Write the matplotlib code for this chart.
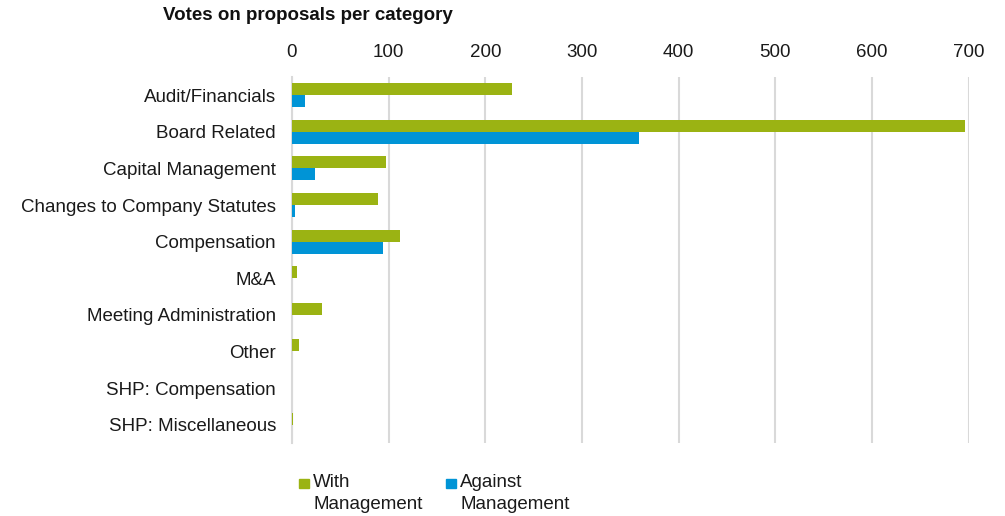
import numpy as np
import matplotlib.pyplot as plt
from matplotlib.patches import Rectangle

plt.rcParams['font.family'] = ['Liberation Sans', 'DejaVu Sans']

categories = ['Audit/Financials', 'Board Related', 'Capital Management',
              'Changes to Company Statutes', 'Compensation', 'M&A',
              'Meeting Administration', 'Other', 'SHP: Compensation',
              'SHP: Miscellaneous']
with_mgmt = [228, 696, 97, 89, 112, 5, 31, 7, 0, 1]
against_mgmt = [14, 359, 24, 3, 94, 0, 0, 0, 0, 0]
xticks = [0, 100, 200, 300, 400, 500, 600, 700]
legend_labels = ['With\nManagement', 'Against\nManagement']

green = '#9BB313'
blue = '#0094D6'
fs = 13.5

fig = plt.figure(figsize=(10.05, 5.16), dpi=100)
ax = fig.add_axes([0.2905, 0.1415, 0.6735, 0.7095])

y = np.arange(len(categories))
h = 0.33
ax.barh(y - h / 2, with_mgmt, height=h, color=green, linewidth=0, zorder=3)
ax.barh(y + h / 2, against_mgmt, height=h, color=blue, linewidth=0, zorder=3)

ax.set_ylim(len(categories) - 0.5, -0.5)
ax.set_xlim(0, 700)
ax.set_yticks(y)
ax.set_yticklabels(categories, fontsize=fs, color='#1a1a1a')
ax.set_xticks(xticks)
ax.xaxis.tick_top()
ax.tick_params(axis='x', labelsize=fs, length=0, pad=11.5, colors='#1a1a1a')
ax.tick_params(axis='y', length=0, pad=11.5)
ax.grid(axis='x', color='#D9D9D9', linewidth=1.5, zorder=0)
for s in ['top', 'right', 'bottom']:
    ax.spines[s].set_visible(False)
ax.spines['left'].set_color('#D9D9D9')
ax.spines['left'].set_linewidth(1.5)

fig.text(163 / 1005, 1 - 7 / 516, 'Votes on proposals per category', fontsize=fs,
         fontweight='bold', va='top', ha='left', color='#111111')

# legend drawn by hand: square + two-line label
W, H = 1005, 516
for (mx, tx), col, lab in zip([(299, 313), (446, 460)], [green, blue], legend_labels):
    fig.patches.append(Rectangle((mx / W, 1 - 488 / H), 9.5 / W, 9.5 / H,
                                 transform=fig.transFigure, color=col))
    fig.text(tx / W, 1 - 474 / H, lab, fontsize=fs, va='top', ha='left',
             linespacing=1.35, color='#1a1a1a')

fig.savefig('out.png', dpi=100)
